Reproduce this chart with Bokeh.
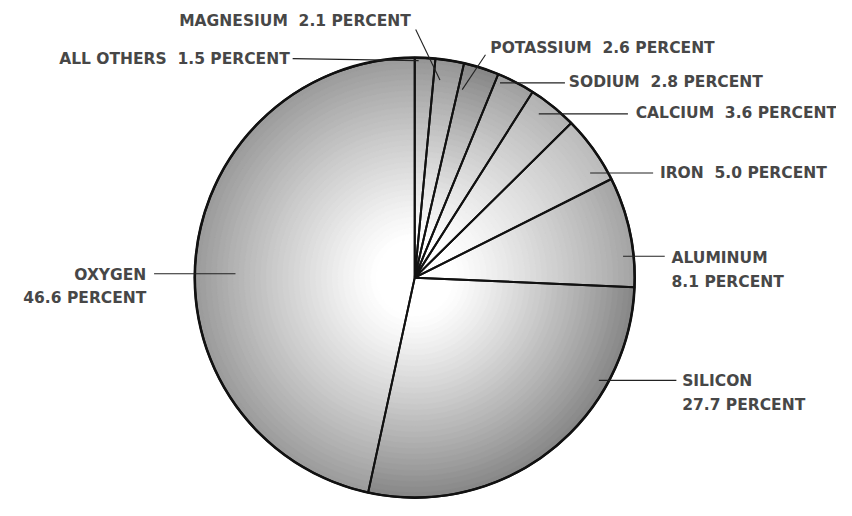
import numpy as np
from bokeh.plotting import figure
from bokeh.models import Range1d, ColumnDataSource
from bokeh.embed import file_html
from bokeh.resources import INLINE
from bokeh.core.properties import value

# ---------------- data ----------------
elements = ["ALL OTHERS", "MAGNESIUM", "POTASSIUM", "SODIUM", "CALCIUM",
            "IRON", "ALUMINUM", "SILICON", "OXYGEN"]
percents = [1.5, 2.1, 2.6, 2.8, 3.6, 5.0, 8.1, 27.7, 46.6]

# ---------------- layout / style (reference pixel coords, y down) ----------------
H = 516
CX, CY, R = 417, 286, 227
edge_gray = [150, 150, 135, 160, 178, 188, 165, 136, 156]
# label anchor: x, y of first line, align, split into two lines
label_pos = [
    (288, 60, "right", False),
    (413, 21, "right", False),
    (495, 49, "left", False),
    (576, 84, "left", False),
    (645, 116, "left", False),
    (670, 178, "left", False),
    (682, 266, "left", True),
    (693, 393, "left", True),
    (140, 283, "right", True),
]
leader_pts = [
    ((291, 60), (421, 62)),
    ((418, 30), (443, 82)),
    ((490, 56), (466, 92)),
    ((505, 85), (572, 85)),
    ((545, 117), (637, 117)),
    ((598, 178), (663, 178)),
    ((632, 264), (675, 264)),
    ((607, 392), (687, 392)),
    ((148, 282), (232, 282)),
]
FONT = "DejaVu Sans"
FONT_SIZE = "15.5px"
TEXT_COLOR = "#474747"
LINE_GAP = 24
GAP = " \u00a0"


def yd(Y):
    return H - Y


W_PX, H_PX = 836, 500
scale = H_PX / H
xspan = W_PX / scale
x0 = -10.5
p = figure(width=W_PX, height=H_PX, output_backend="svg", toolbar_location=None,
           x_range=Range1d(x0, x0 + xspan),
           y_range=Range1d(0, H), min_border=0)
p.axis.visible = False
p.grid.visible = False
p.outline_line_color = None
p.background_fill_color = "white"

# angles (clockwise from top)
vals = np.array(percents, dtype=float)
cum = np.concatenate([[0], np.cumsum(vals)]) / vals.sum() * 2 * np.pi
start = np.pi / 2 - cum[:-1]
end = np.pi / 2 - cum[1:]

# radial shading: draw nested wedges from outer to inner
N = 40
xs, ys, rs, sa, ea, cols = [], [], [], [], [], []
for k in range(N):
    t = 1 - k / N
    g = np.clip((t - 0.18) / 0.82, 0, 1) ** 1.15
    for i in range(len(vals)):
        lev = int(round(255 - (255 - edge_gray[i]) * g))
        xs.append(CX); ys.append(yd(CY)); rs.append(R * t)
        sa.append(start[i]); ea.append(end[i])
        cols.append("#%02x%02x%02x" % (lev, lev, lev))
shade = ColumnDataSource(dict(x=xs, y=ys, r=rs, sa=sa, ea=ea, c=cols))
p.wedge(x="x", y="y", radius="r", start_angle="sa", end_angle="ea",
        direction="clock", fill_color="c", line_color="c", line_width=0.6,
        source=shade)

# slice outlines
outl = ColumnDataSource(dict(x=[CX] * len(vals), y=[yd(CY)] * len(vals),
                             sa=start, ea=end))
p.wedge(x="x", y="y", radius=R, start_angle="sa", end_angle="ea",
        direction="clock", fill_color=None, line_color="#111111",
        line_width=2, source=outl)
p.circle(x=[CX], y=[yd(CY)], radius=R, fill_color=None,
         line_color="#111111", line_width=2.6)

# leader lines
p.segment(x0=[a[0] for a, b in leader_pts], y0=[yd(a[1]) for a, b in leader_pts],
          x1=[b[0] for a, b in leader_pts], y1=[yd(b[1]) for a, b in leader_pts],
          line_color="#222222", line_width=1.1)

# labels
tx, ty, tt, ta = [], [], [], []
for name, v, (x, y, al, two) in zip(elements, percents, label_pos):
    if two:
        lines = [name, f"{v} PERCENT"]
    else:
        lines = [f"{name}{GAP}{v} PERCENT"]
    for j, s in enumerate(lines):
        tx.append(x); ty.append(yd(y + j * LINE_GAP)); tt.append(s); ta.append(al)
lab = ColumnDataSource(dict(x=tx, y=ty, t=tt, a=ta))
p.text(x="x", y="y", text="t", text_align="a", text_baseline="middle",
       text_font=value(FONT), text_font_size=FONT_SIZE, text_font_style="bold",
       text_color=TEXT_COLOR, source=lab)

open("out.html", "w").write(file_html(p, INLINE))
